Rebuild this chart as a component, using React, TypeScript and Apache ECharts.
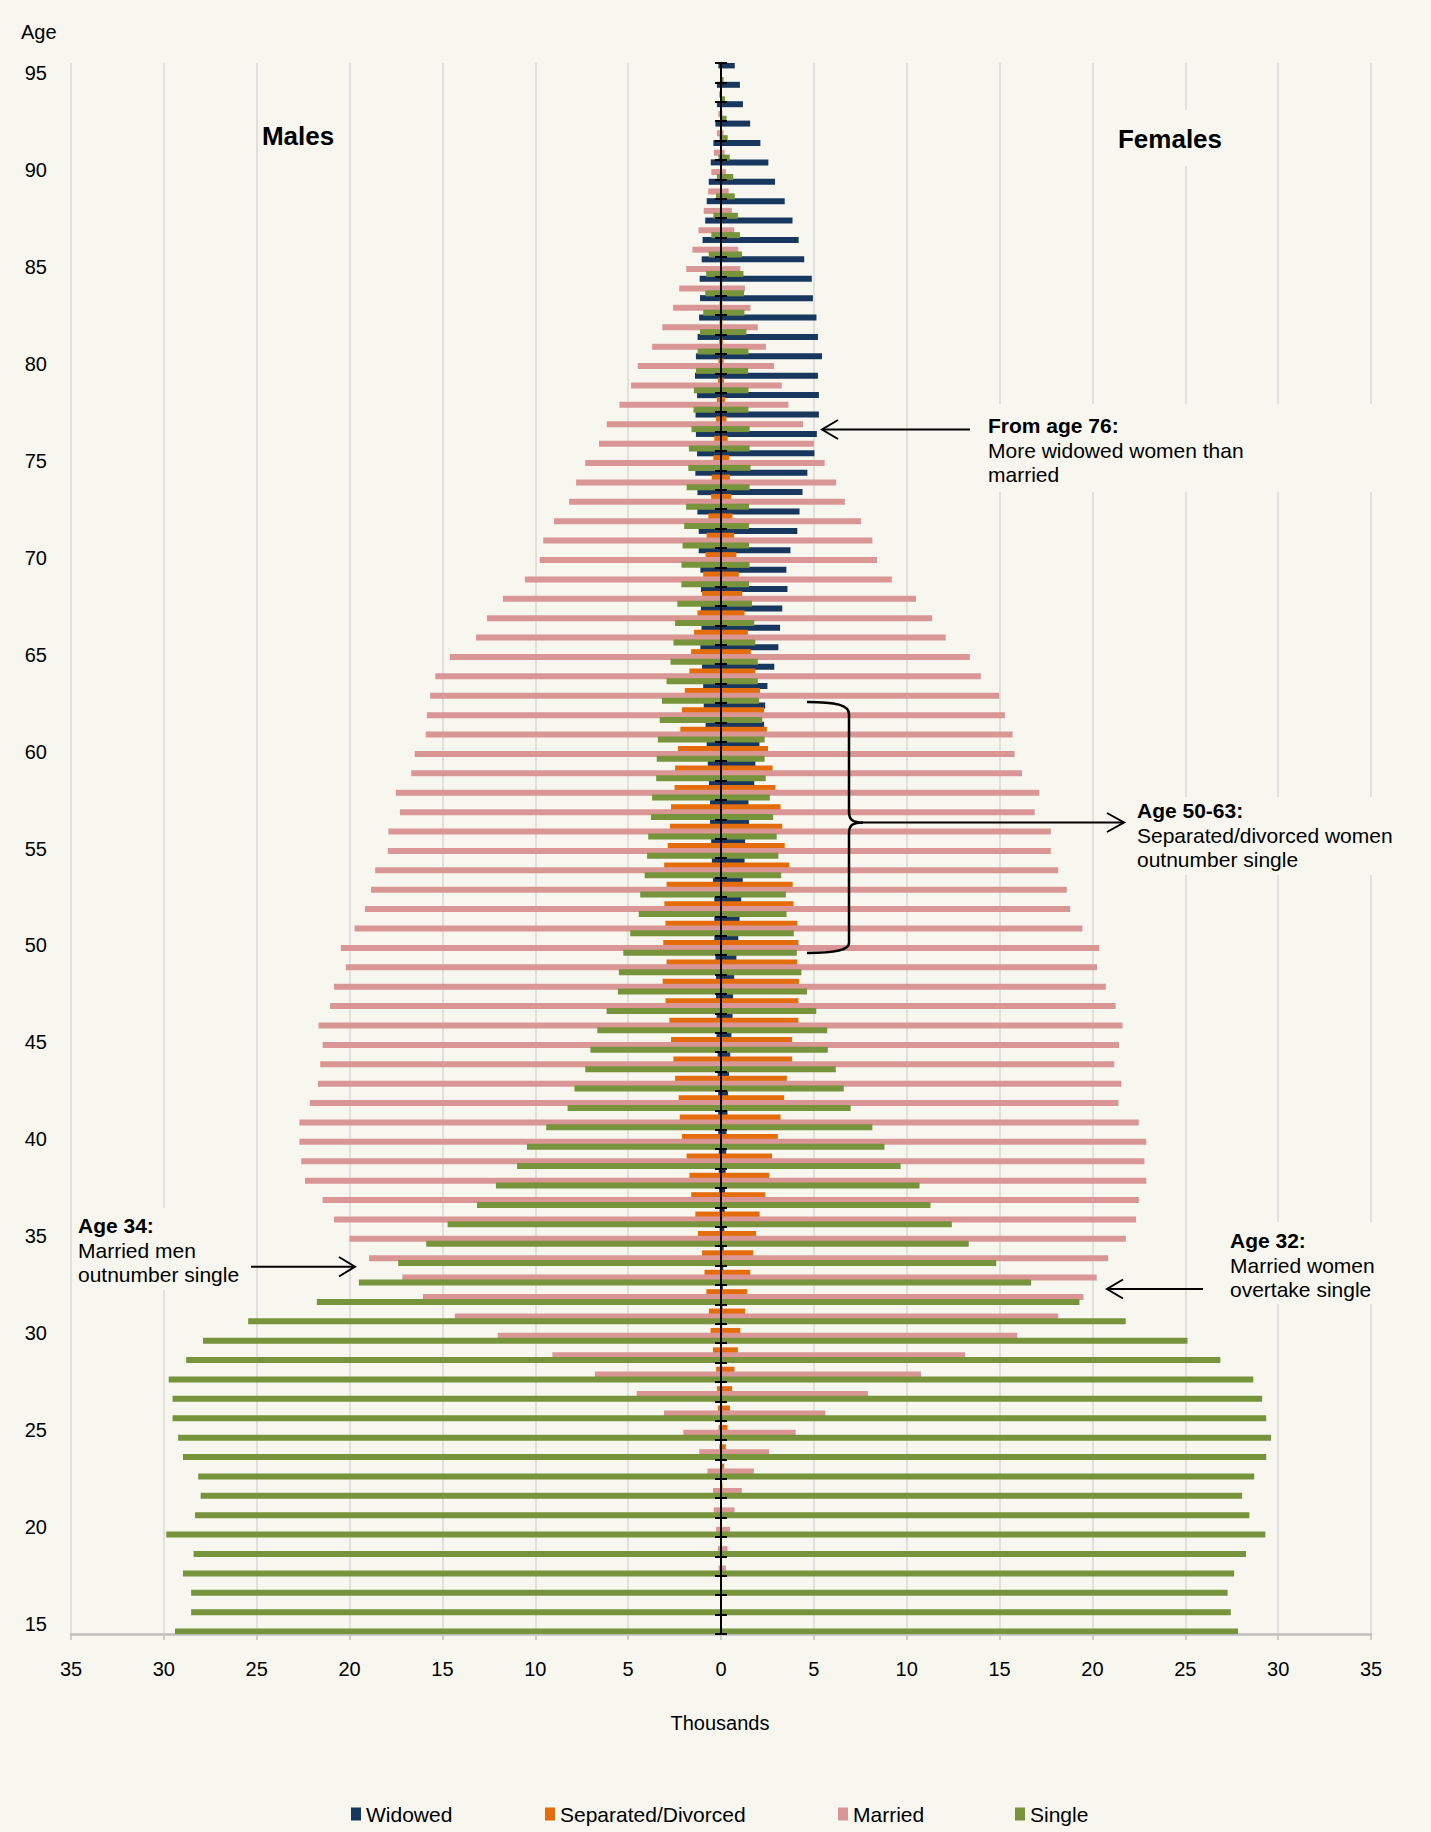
import React, { useEffect, useRef } from "react";
import * as echarts from "echarts";

// Ages 15 .. 95 (bottom to top)
const ages = [
  "15","16","17","18","19","20","21","22","23","24","25","26","27","28","29","30","31","32","33","34",
  "35","36","37","38","39","40","41","42","43","44","45","46","47","48","49","50","51","52","53","54",
  "55","56","57","58","59","60","61","62","63","64","65","66","67","68","69","70","71","72","73","74",
  "75","76","77","78","79","80","81","82","83","84","85","86","87","88","89","90","91","92","93","94","95",
];

// Thousands, ages 15 .. 95
const widowedMale = [
  0, 0, 0, 0, 0, 0.01, 0.01, 0.01, 0.01, 0.01, 0.01, 0.02, 0.02, 0.02, 0.03,
  0.03, 0.03, 0.04, 0.05, 0.06, 0.07, 0.08, 0.1, 0.12, 0.12, 0.15, 0.15, 0.15, 0.18, 0.18,
  0.24, 0.24, 0.27, 0.27, 0.3, 0.36, 0.36, 0.36, 0.43, 0.49, 0.53, 0.59, 0.59, 0.65, 0.71,
  0.77, 0.83, 0.93, 0.96, 1.02, 1.11, 1.05, 1.08, 1.08, 1.11, 1.2, 1.2, 1.27, 1.27, 1.38,
  1.29, 1.35, 1.37, 1.29, 1.4, 1.35, 1.26, 1.18, 1.13, 1.15, 1.04, 0.99, 0.85, 0.77, 0.66,
  0.55, 0.41, 0.3, 0.22, 0.22, 0.14,
];
const widowedFemale = [
  0, 0, 0, 0, 0.01, 0.01, 0.01, 0.02, 0.02, 0.02, 0.03, 0.03, 0.04, 0.04, 0.05,
  0.06, 0.08, 0.1, 0.12, 0.14, 0.17, 0.2, 0.22, 0.25, 0.28, 0.3, 0.35, 0.38, 0.43, 0.5,
  0.56, 0.62, 0.65, 0.71, 0.83, 0.93, 1.0, 1.09, 1.17, 1.27, 1.3, 1.51, 1.48, 1.79, 1.85,
  2.07, 2.32, 2.38, 2.5, 2.87, 3.09, 3.18, 3.3, 3.58, 3.52, 3.74, 4.11, 4.23, 4.39, 4.65,
  5.03, 5.16, 5.27, 5.27, 5.22, 5.44, 5.22, 5.14, 4.95, 4.89, 4.48, 4.18, 3.85, 3.43, 2.91,
  2.55, 2.12, 1.57, 1.18, 1.02, 0.74,
];
const separatedMale = [
  0, 0, 0, 0.01, 0.01, 0.01, 0.01, 0.02, 0.04, 0.09, 0.13, 0.17, 0.22, 0.26, 0.43,
  0.56, 0.65, 0.79, 0.89, 1.02, 1.24, 1.38, 1.6, 1.7, 1.85, 2.1, 2.22, 2.28, 2.47, 2.56,
  2.69, 2.78, 2.99, 3.14, 2.93, 3.11, 2.99, 3.05, 2.93, 3.06, 2.87, 2.75, 2.69, 2.5, 2.47,
  2.32, 2.19, 2.1, 1.95, 1.7, 1.61, 1.45, 1.27, 1.02, 0.96, 0.83, 0.77, 0.68, 0.53, 0.5,
  0.41, 0.36, 0.27, 0.22, 0.16, 0.14, 0.1, 0.08, 0.07, 0.06, 0.05, 0.04, 0.04, 0.03, 0.03,
  0.02, 0.02, 0.01, 0.01, 0.01, 0.01,
];
const separatedFemale = [
  0, 0, 0.01, 0.01, 0.02, 0.03, 0.05, 0.08, 0.17, 0.26, 0.35, 0.48, 0.6, 0.73, 0.91,
  1.04, 1.3, 1.42, 1.58, 1.73, 1.89, 2.08, 2.38, 2.6, 2.75, 3.06, 3.21, 3.4, 3.55, 3.83,
  3.83, 4.17, 4.17, 4.2, 4.11, 4.17, 4.11, 3.9, 3.86, 3.68, 3.43, 3.3, 3.21, 2.93, 2.78,
  2.53, 2.47, 2.32, 2.1, 1.85, 1.61, 1.45, 1.27, 1.14, 0.96, 0.83, 0.71, 0.62, 0.56, 0.48,
  0.44, 0.36, 0.3, 0.22, 0.16, 0.14, 0.1, 0.08, 0.07, 0.06, 0.05, 0.04, 0.03, 0.03, 0.02,
  0.02, 0.01, 0.01, 0.01, 0.01, 0.01,
];
const marriedMale = [
  0, 0.01, 0.03, 0.13, 0.17, 0.26, 0.39, 0.43, 0.73, 1.17, 2.03, 3.07, 4.54, 6.79, 9.08,
  12.02, 14.33, 16.05, 17.16, 18.95, 20.0, 20.84, 21.45, 22.4, 22.6, 22.7, 22.7, 22.14, 21.7, 21.58,
  21.45, 21.67, 21.05, 20.84, 20.2, 20.47, 19.73, 19.17, 18.84, 18.62, 17.94, 17.91, 17.29, 17.51, 16.68,
  16.49, 15.9, 15.84, 15.66, 15.38, 14.6, 13.19, 12.6, 11.74, 10.56, 9.76, 9.57, 8.99, 8.18, 7.8,
  7.31, 6.57, 6.15, 5.47, 4.84, 4.48, 3.71, 3.16, 2.58, 2.25, 1.87, 1.54, 1.21, 0.93, 0.69,
  0.52, 0.38, 0.22, 0.14, 0.11, 0.05,
];
const marriedFemale = [
  0, 0.02, 0.05, 0.26, 0.35, 0.48, 0.73, 1.12, 1.77, 2.59, 4.02, 5.62, 7.91, 10.77, 13.14,
  15.95, 18.16, 19.52, 20.23, 20.85, 21.8, 22.35, 22.5, 22.9, 22.8, 22.9, 22.5, 21.4, 21.56, 21.18,
  21.43, 21.62, 21.25, 20.72, 20.25, 20.37, 19.46, 18.8, 18.62, 18.16, 17.76, 17.76, 16.89, 17.14, 16.21,
  15.81, 15.7, 15.29, 14.98, 13.99, 13.4, 12.1, 11.37, 10.5, 9.2, 8.4, 8.15, 7.54, 6.67, 6.2,
  5.58, 5.0, 4.42, 3.63, 3.27, 2.86, 2.42, 1.98, 1.59, 1.29, 1.04, 0.93, 0.71, 0.58, 0.41,
  0.27, 0.19, 0.14, 0.08, 0.05, 0.05,
];
const singleMale = [
  29.4, 28.53, 28.53, 28.97, 28.4, 29.87, 28.32, 28.02, 28.15, 28.97, 29.23, 29.53, 29.53, 29.74, 28.8,
  27.89, 25.46, 21.76, 19.5, 17.38, 15.87, 14.72, 13.14, 12.12, 10.98, 10.45, 9.41, 8.26, 7.89, 7.31,
  7.03, 6.66, 6.16, 5.55, 5.5, 5.26, 4.89, 4.43, 4.35, 4.11, 3.98, 3.92, 3.77, 3.71, 3.49,
  3.46, 3.4, 3.3, 3.18, 2.93, 2.72, 2.56, 2.47, 2.35, 2.13, 2.13, 2.07, 1.98, 1.88, 1.85,
  1.76, 1.73, 1.59, 1.48, 1.46, 1.35, 1.26, 1.13, 0.96, 0.85, 0.8, 0.66, 0.52, 0.41, 0.27,
  0.22, 0.14, 0.08, 0.05, 0.05, 0.03,
];
const singleFemale = [
  27.84, 27.45, 27.28, 27.63, 28.27, 29.31, 28.45, 28.06, 28.71, 29.36, 29.62, 29.36, 29.14, 28.66, 26.89,
  25.12, 21.79, 19.3, 16.7, 14.82, 13.34, 12.43, 11.28, 10.69, 9.67, 8.8, 8.15, 6.98, 6.61, 6.18,
  5.75, 5.72, 5.13, 4.63, 4.33, 4.08, 3.92, 3.53, 3.49, 3.24, 3.09, 3.0, 2.81, 2.63, 2.41,
  2.35, 2.35, 2.22, 2.05, 1.98, 1.98, 1.85, 1.79, 1.67, 1.51, 1.54, 1.51, 1.51, 1.51, 1.54,
  1.59, 1.54, 1.54, 1.48, 1.48, 1.46, 1.48, 1.37, 1.26, 1.24, 1.21, 1.13, 1.02, 0.91, 0.74,
  0.66, 0.47, 0.36, 0.3, 0.22, 0.14,
];

const statusNames = ["Widowed", "Separated/Divorced", "Married", "Single"];
const statusColors = ["#17375E", "#E46C0A", "#D99694", "#77933C"];
const xTicks = { min: -35, max: 35, step: 5 };

const BG = "#f7f7f0";
const FONT = '"Liberation Sans", Arial, Helvetica, sans-serif';

export default function App() {
  const ref = useRef<HTMLDivElement>(null);

  useEffect(() => {
    document.body.style.margin = "0";
    document.body.style.background = BG;
    if (!ref.current) return;
    const chart = echarts.init(ref.current, null, { renderer: "svg" });

    echarts.graphic.registerShape(
      "brace",
      echarts.graphic.extendPath(
        "M 807 702 C 836 702 849 705 849 714 L 849 812 C 849 820 853 822.5 863 822.5 C 853 822.5 849 825 849 833 L 849 943 C 849 950 836 953 807 953",
        {}
      )
    );

    const pairs: [number[], number[]][] = [
      [widowedMale, widowedFemale],
      [separatedMale, separatedFemale],
      [marriedMale, marriedFemale],
      [singleMale, singleFemale],
    ];

    const series: any[] = [];
    pairs.forEach(([m, f], i) => {
      const common = {
        type: "bar",
        name: statusNames[i],
        stack: "s" + i,
        barWidth: 6,
        barGap: "-19%",
        itemStyle: { color: statusColors[i] },
        emphasis: { disabled: true },
        silent: true,
      };
      series.push({ ...common, data: m.map((v) => -v) });
      series.push({ ...common, data: f.slice() });
    });

    const legendLefts = [351, 545, 838, 1015];
    const legends = statusNames.map((n, i) => ({
      data: [n],
      left: legendLefts[i],
      top: 1803,
      padding: 0,
      itemWidth: 10,
      itemHeight: 13,
      icon: "rect",
      selectedMode: false,
      textStyle: { fontSize: 21, color: "#000", fontFamily: FONT, lineHeight: 22 },
    }));

    const txt = (x: number, y: number, text: string, size: number, bold = false, align = "left") => ({
      type: "text",
      z: 101,
      x,
      y,
      style: {
        text,
        font: `${bold ? "bold " : ""}${size}px ${FONT}`,
        fill: "#000",
        align,
        verticalAlign: "middle",
      },
    });
    const box = (x: number, y: number, w: number, h: number) => ({
      type: "rect",
      z: 100,
      shape: { x, y, width: w, height: h },
      style: { fill: BG },
    });
    const ln = (x1: number, y1: number, x2: number, y2: number) => ({
      type: "line",
      z: 102,
      shape: { x1, y1, x2, y2 },
      style: { stroke: "#000", lineWidth: 2 },
    });
    const head = (pts: number[][]) => ({
      type: "polyline",
      z: 102,
      shape: { points: pts },
      style: { stroke: "#000", lineWidth: 2, fill: "none" },
    });

    const graphic: any[] = [
      txt(21, 32, "Age", 20),
      txt(298, 136, "Males", 26, true, "center"),
      box(1112, 110, 116, 56),
      txt(1170, 139, "Females", 26, true, "center"),
      // From age 76
      box(982, 404, 392, 88),
      txt(988, 425, "From age 76:", 21, true),
      txt(988, 450, "More widowed women than", 21),
      txt(988, 474, "married", 21),
      ln(970, 429.5, 822, 429.5),
      head([[838, 420], [822, 429.5], [838, 439]]),
      // Age 50-63
      { type: "brace", z: 102, x: 0, y: 0, shape: {}, style: { stroke: "#000", lineWidth: 2.5, fill: "none" } },
      ln(862, 822.5, 1124, 822.5),
      head([[1107, 813], [1124, 822.5], [1107, 832]]),
      box(1131, 797, 248, 78),
      txt(1137, 810, "Age 50-63:", 21, true),
      txt(1137, 835, "Separated/divorced women", 21),
      txt(1137, 859, "outnumber single", 21),
      // Age 34
      box(72, 1208, 172, 82),
      txt(78, 1225, "Age 34:", 21, true),
      txt(78, 1250, "Married men", 21),
      txt(78, 1274, "outnumber single", 21),
      ln(251, 1266.7, 355, 1266.7),
      head([[339, 1257], [355, 1266.7], [339, 1276.5]]),
      // Age 32
      box(1224, 1222, 150, 82),
      txt(1230, 1240, "Age 32:", 21, true),
      txt(1230, 1265, "Married women", 21),
      txt(1230, 1289, "overtake single", 21),
      ln(1203, 1289, 1107, 1289),
      head([[1123, 1279.5], [1107, 1289], [1123, 1298.5]]),
      // x axis name
      txt(720, 1723, "Thousands", 20, false, "center"),
    ];

    const catAxisBase = {
      type: "category",
      data: ages,
      boundaryGap: true,
      splitLine: { show: false },
    };

    chart.setOption({
      animation: false,
      backgroundColor: BG,
      textStyle: { fontFamily: FONT },
      grid: { left: 71, right: 60, top: 63, bottom: 198, containLabel: false },
      xAxis: {
        type: "value",
        min: xTicks.min,
        max: xTicks.max,
        interval: xTicks.step,
        axisLine: { show: true, onZero: false, lineStyle: { color: "#bfbfbf", width: 2.5 } },
        axisTick: { show: true, length: 6, lineStyle: { color: "#bfbfbf", width: 1.5 } },
        axisLabel: {
          formatter: (v: number) => String(Math.abs(v)),
          fontSize: 20,
          color: "#000",
          margin: 25,
          fontFamily: FONT,
        },
        splitLine: { show: true, lineStyle: { color: "#d9d9d9", width: 1.5 } },
      },
      yAxis: [
        {
          ...catAxisBase,
          position: "left",
          axisLine: { show: false, onZero: false },
          axisTick: { show: false },
          axisLabel: { interval: 4, fontSize: 20, color: "#000", margin: 24, fontFamily: FONT },
        },
        {
          ...catAxisBase,
          position: "left",
          axisLine: { show: true, onZero: true, onZeroAxisIndex: 0, lineStyle: { color: "#000", width: 2 } },
          axisTick: { show: true, interval: 0, inside: true, length: 6, lineStyle: { color: "#000", width: 2 } },
          axisLabel: { show: false },
          z: 5,
        },
        {
          ...catAxisBase,
          position: "left",
          axisLine: { show: true, onZero: true, onZeroAxisIndex: 0, lineStyle: { color: "#000", width: 2 } },
          axisTick: { show: true, interval: 0, inside: false, length: 6, lineStyle: { color: "#000", width: 2 } },
          axisLabel: { show: false },
          z: 5,
        },
      ],
      legend: legends,
      series,
      graphic,
    });

    return () => chart.dispose();
  }, []);

  return <div ref={ref} style={{ width: 1431, height: 1832 }} />;
}
